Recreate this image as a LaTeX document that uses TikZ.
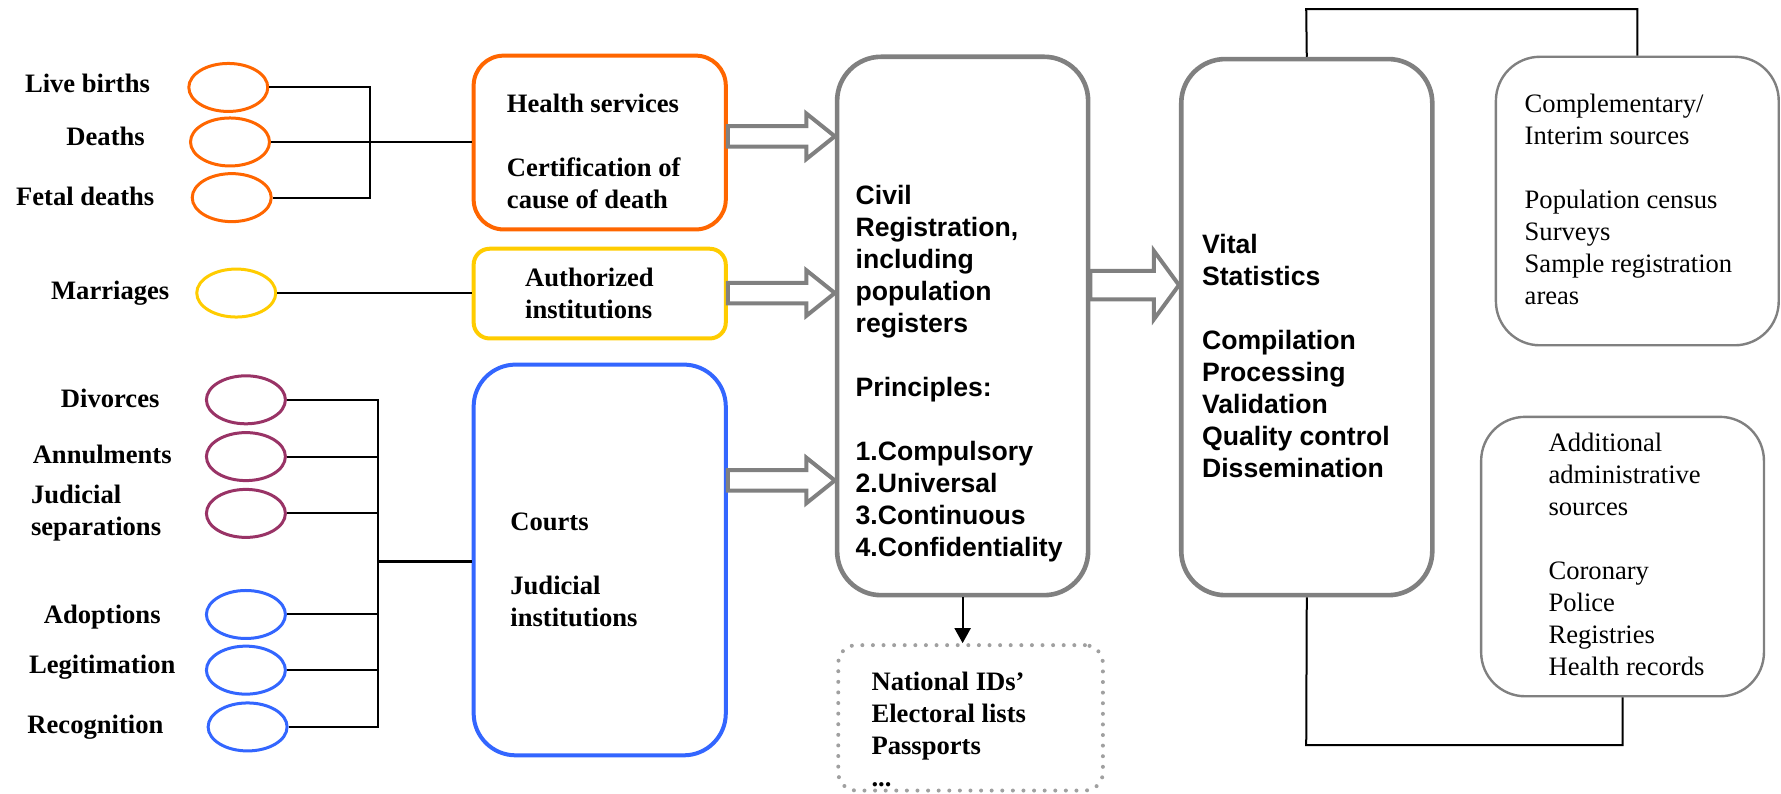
\documentclass[tikz,border=0pt]{standalone}
\usepackage{fontspec}
\setmainfont{Liberation Serif}
\setsansfont{Liberation Sans}
\usetikzlibrary{shapes.geometric,fit,arrows.meta,calc}
\definecolor{cOrange}{HTML}{FF6600}
\definecolor{cYellow}{HTML}{FFCC00}
\definecolor{cPurple}{HTML}{993366}
\definecolor{cBlue}{HTML}{3366FF}
\definecolor{cGray}{HTML}{808080}
\definecolor{cDot}{HTML}{A0A0A0}
\newcommand\blkarrow[5]{%
  \draw[barrow] ($(#1)+(0,-#3)$) -- ($(#2)+(-#5,-#3)$) -- ($(#2)+(-#5,-#4)$) -- (#2)
    -- ($(#2)+(-#5,#4)$) -- ($(#2)+(-#5,#3)$) -- ($(#1)+(0,#3)$) -- cycle;}
\begin{document}
\begin{tikzpicture}[x=0.568pt,y=-0.568pt,
  lbl/.style={font=\fontsize{13.3pt}{16pt}\selectfont\bfseries, inner sep=0},
  ov/.style={ellipse, draw, line width=1.5pt, minimum width=39.5pt, minimum height=24pt, inner sep=0},
  srcbox/.style={draw, line width=2pt, inner sep=0},
  graybox/.style={draw=cGray, line width=2.3pt, inner sep=0, rounded corners=22pt},
  thinbox/.style={draw=cGray, line width=1.2pt, inner sep=0, rounded corners=22pt},
  dotbox/.style={draw=cDot, line width=2pt, dash pattern=on 0pt off 5.3pt, line cap=round, inner sep=0, rounded corners=9pt},
  conn/.style={line width=1pt},
  barrow/.style={draw=cGray, line width=2pt, fill=white, line join=miter},
  txt/.style={align=left, anchor=west, inner sep=0, font=\fontsize{13.3pt}{16pt}\selectfont},
]
\useasboundingbox (0,0) rectangle (1568,699);

% boxes
\node[srcbox, draw=cOrange, rounded corners=15pt, fit={(417,49)(639,202)}] (hs) {};
\node[srcbox, draw=cYellow, rounded corners=8pt, fit={(417,219)(639,298)}] (au) {};
\node[srcbox, draw=cBlue, rounded corners=21pt, fit={(417,321)(639,665)}] (co) {};
\node[graybox, fit={(737,50)(958,524)}] (cr) {};
\node[graybox, fit={(1040,52)(1261,524)}] (vs) {};
\node[thinbox, fit={(1317,50)(1566,304)}] (cs) {};
\node[thinbox, fit={(1304,367)(1553,613)}] (as) {};
\node[dotbox, fit={(738,568)(971,696)}] (db) {};

% box texts
\node[txt, font=\fontsize{13.3pt}{16pt}\selectfont\bfseries] (hst) at (446,133) {Health services\\[16pt]Certification of\\cause of death};
\node[txt, font=\fontsize{13.3pt}{16pt}\selectfont\bfseries] (aut) at (462,258) {Authorized\\institutions};
\node[txt, font=\fontsize{13.3pt}{16pt}\selectfont\bfseries] (cot) at (449,501.5) {Courts\\[16pt]Judicial\\institutions};
\node[txt, font=\fontsize{13.3pt}{16pt}\selectfont\sffamily\bfseries] (crt) at (753,329) {Civil\\Registration,\\including\\population\\registers\\[16pt]Principles:\\[16pt]1.Compulsory\\2.Universal\\3.Continuous\\4.Confidentiality};
\node[txt, font=\fontsize{13.3pt}{16pt}\selectfont\sffamily\bfseries] (vst) at (1058,313.5) {Vital\\Statistics\\[16pt]Compilation\\Processing\\Validation\\Quality control\\Dissemination};
\node[txt] (cst) at (1342,175.5) {Complementary/\\Interim sources\\[16pt]Population census\\Surveys\\Sample registration\\areas};
\node[txt] (ast) at (1363,488.5) {Additional\\administrative\\sources\\[16pt]Coronary\\Police\\Registries\\Health records};
\node[txt, font=\fontsize{13.3pt}{16pt}\selectfont\bfseries] (dbt) at (767,642) {National IDs’\\Electoral lists\\Passports\\...};

% ellipses
\node[ov, draw=cOrange] (lb) at (201,77) {};
\node[ov, draw=cOrange] (de) at (202.5,125) {};
\node[ov, draw=cOrange] (fd) at (204,174) {};
\node[ov, draw=cYellow] (ma) at (208,258) {};
\node[ov, draw=cPurple] (dv) at (216.5,352) {};
\node[ov, draw=cPurple] (an) at (216.5,402) {};
\node[ov, draw=cPurple] (js) at (216.5,452) {};
\node[ov, draw=cBlue] (ad) at (216.5,541) {};
\node[ov, draw=cBlue] (lg) at (216.5,590) {};
\node[ov, draw=cBlue] (rc) at (218,640) {};

% labels
\node[lbl] (lbt) at (77,73) {Live births};
\node[lbl] (det) at (93,120) {Deaths};
\node[lbl] (fdt) at (75,173) {Fetal deaths};
\node[lbl] (mat) at (97,258) {Marriages};
\node[lbl] (dvt) at (97,351) {Divorces};
\node[lbl] (ant) at (90,400) {Annulments};
\node[lbl, align=left, anchor=west, font=\fontsize{13.3pt}{16pt}\selectfont\bfseries] (jst) at (27,452) {Judicial\\separations};
\node[lbl] (adt) at (90,543) {Adoptions};
\node[lbl] (lgt) at (90,587) {Legitimation};
\node[lbl] (rct) at (84,640) {Recognition};

% connectors, health group
\coordinate (j1) at (326,125);
\draw[conn] (lb.east) -| (j1) |- (fd.east);
\draw[conn, line width=1.4pt] (de.east) -- (de.east -| hs.west);
% marriages
\draw[conn, line width=1.3pt] (ma.east) -- (ma.east -| au.west);
% courts group
\coordinate (j2) at (333,494);
\draw[conn] (dv.east) -| (j2);
\draw[conn] (rc.east) -| (j2);
\draw[conn] (an.east) -- (an.east -| j2);
\draw[conn] (js.east) -- (js.east -| j2);
\draw[conn] (ad.east) -- (ad.east -| j2);
\draw[conn] (lg.east) -- (lg.east -| j2);
\draw[conn, line width=1.4pt] (j2) -- (j2 -| co.west);

% block arrows
\path (hs.east) ++(0,-5.5) coordinate (a1s);
\coordinate (a1e) at (a1s -| cr.west);
\blkarrow{a1s}{a1e}{9}{20}{25}
\path (au.east) ++(0,-0.5) coordinate (a2s);
\coordinate (a2e) at (a2s -| cr.west);
\blkarrow{a2s}{a2e}{9}{20}{25}
\path (co.east) ++(0,-70) coordinate (a3s);
\coordinate (a3e) at (a3s -| cr.west);
\blkarrow{a3s}{a3e}{9}{20}{25}
\path (cr.east) ++(0,-36) coordinate (a4s);
\coordinate (a4e) at (a4s -| vs.west);
\blkarrow{a4s}{a4e}{12.5}{30}{22}

% top and bottom links
\coordinate (t1) at (1150,8);
\draw[conn] (vs.north) -- (t1) -| (cs.north);
\coordinate (b1) at (1150,656);
\draw[conn] (vs.south) -- (b1) -| (as.south);

% down arrow
\draw[conn, -{Triangle[width=8pt,length=7.5pt]}] (cr.south) -- (cr.south |- db.north);
\end{tikzpicture}
\end{document}
